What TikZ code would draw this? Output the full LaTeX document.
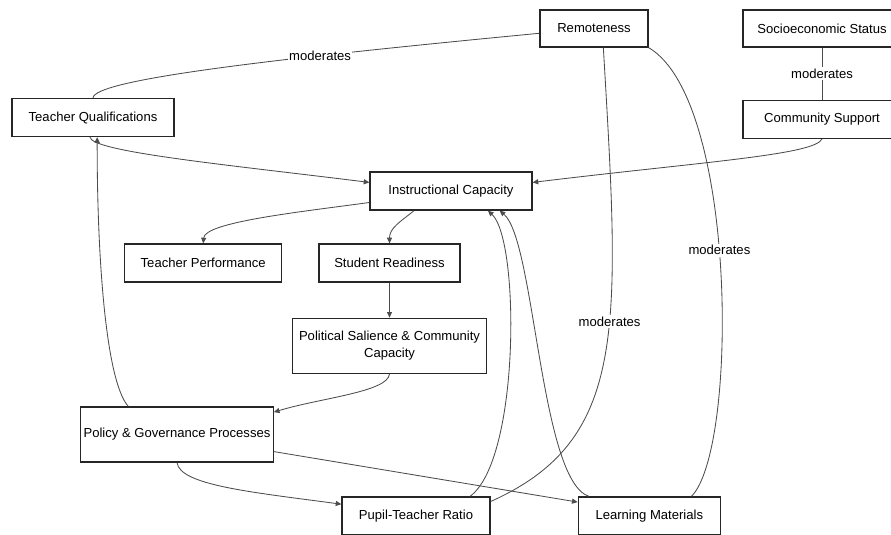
\documentclass[tikz,border=0pt]{standalone}
\usepackage{fontspec}
\setmainfont{Liberation Sans}
\usetikzlibrary{arrows.meta, positioning}
\tikzstyle{factor} = [rectangle, draw=black!85, line width=0.9pt, minimum height=0.95cm, text centered, align=center, inner sep=2pt, font=\fontsize{9.3}{12}\selectfont]
\tikzstyle{arrow} = [draw=black!70, line width=0.6pt, -{Triangle[length=4pt,width=3.6pt]}]
\tikzstyle{link} = [draw=black!70, line width=0.6pt]
\tikzstyle{tag} = [fill=white, inner sep=1pt, font=\fontsize{9.3}{12}\selectfont]

\begin{document}
\begin{tikzpicture}[x=0.025cm, y=-0.025cm]
\useasboundingbox (0,0) rectangle (891,534);

% Nodes (Factors)
\node[factor, minimum width=2.7cm, minimum height=0.925cm] (remote) at (594,28.5) {Remoteness};
\node[factor, minimum width=3.95cm, minimum height=0.925cm] (ses) at (822,28.5) {Socioeconomic Status};
\node[factor, minimum width=3.95cm, below=1.3cm of ses] (cs) {Community Support};
\node[factor, minimum width=4.05cm] (tq) at (93,117.5) {Teacher Qualifications};
\node[factor, minimum width=4.05cm] (ic) at (451,191) {Instructional Capacity};
\node[factor, minimum width=3.525cm] (sr) at (389.5,263) {Student Readiness};
\node[factor, minimum width=3.925cm, left=0.9cm of sr] (tp) {Teacher Performance};
\node[factor, minimum width=4.85cm, minimum height=1.375cm, below=0.875cm of sr] (ps) {Political Salience \& Community\\Capacity};
\node[factor, minimum width=4.8cm, minimum height=1.375cm] (pg) at (177,434.5) {Policy \& Governance Processes};
\node[factor, minimum width=3.7cm] (ptr) at (416,516) {Pupil-Teacher Ratio};
\node[factor, minimum width=3.55cm, right=2.175cm of ptr] (lm) {Learning Materials};

% Arrows (Links)
\draw[link] (tq.north) .. controls (95,80) and (260,60) .. node[tag, pos=0.7] {moderates} (remote.185);
\draw[link] (ses) -- node[tag] {moderates} (cs);
\draw[arrow] (tq.261) .. controls (92,152) and (230,165) .. (ic.174);
\draw[arrow] (cs.south) .. controls (815,155) and (700,162) .. (ic.6);
\draw[arrow] (ic.188) .. controls (300,212) and (205,222) .. (tp.north);
\draw[arrow] (ic.208) .. controls (400,222) and (389.5,228) .. (sr.north);
\draw[arrow] (sr) -- (ps);
\draw[arrow] (ps.south) .. controls (388,392) and (320,398) .. (pg.13);
\draw[arrow] (pg.150) .. controls (105,380) and (97,250) .. (tq.282);
\draw[arrow] (pg.south) .. controls (180,485) and (250,492) .. (ptr.171);
\draw[arrow] (pg.-10) -- (lm.169);
\draw[arrow] (ptr.20) .. controls (520,460) and (520,240) .. (ic.-28);
\draw[arrow] (lm.162) .. controls (540,480) and (535,240) .. (ic.-22);
\draw[link] (remote.-64) .. controls (620,330) and (628,440) .. node[tag, pos=0.42] {moderates} (ptr.11);
\draw[link] (remote.south east) .. controls (738,100) and (738,450) .. node[tag, pos=0.46] {moderates} (lm.25);

\end{tikzpicture}
\end{document}
